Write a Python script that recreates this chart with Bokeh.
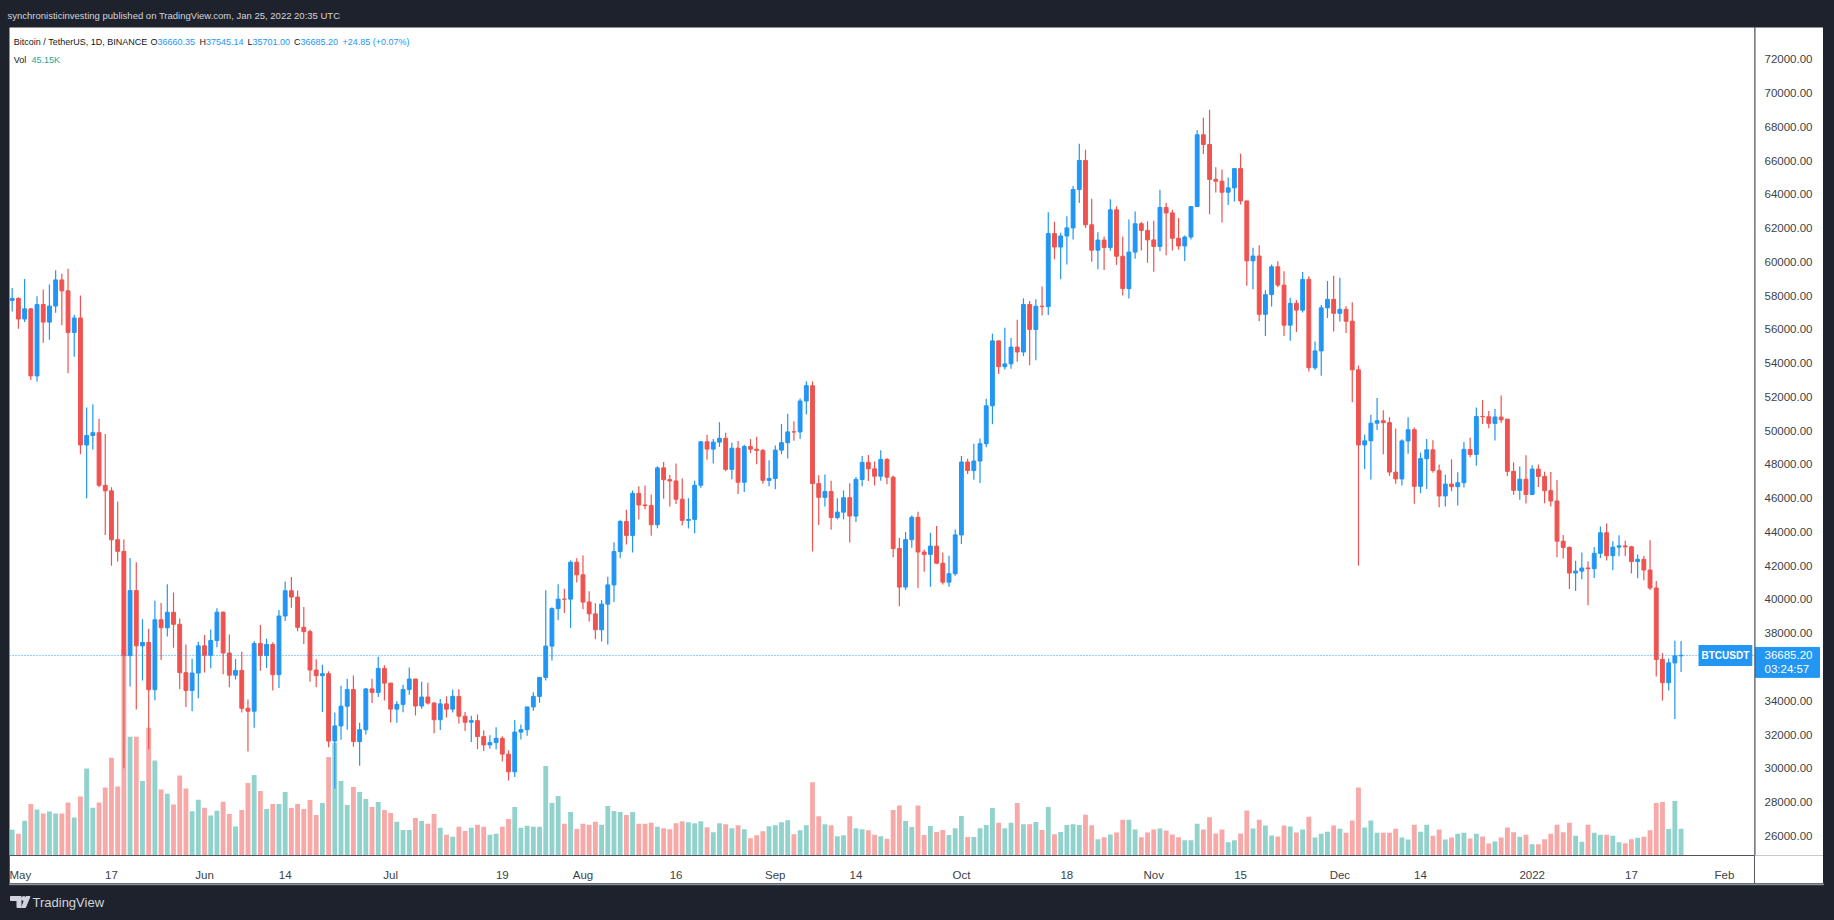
import pandas as pd
from bokeh.plotting import figure
from bokeh.models import Range1d, FixedTicker, Span, Label, ColumnDataSource, Spacer
from bokeh.layouts import column, row
from bokeh.core.properties import value
from bokeh.embed import file_html
from bokeh.resources import INLINE

# ---------------- data (BTC/USDT daily, Binance) ----------------
START_DATE = "2021-05-01"

opens = [
    # May 2021
    57714, 57828, 56610, 57213, 53241, 57473, 56428, 57380, 58928, 58280, 55817, 56670, 49150, 49716, 49880, 46760,
    46432, 43538, 42850, 36672, 40526, 37252, 37449, 34655, 38796, 38324, 39241, 38529, 35663, 34605, 35641,
    # Jun
    37253, 36694, 37568, 39246, 36829, 35516, 35796, 33556, 33381, 37389, 36677, 37332, 35546, 39021, 40516, 40143,
    38349, 38093, 35820, 35483, 35601, 31614, 32509, 33675, 34663, 31577, 32283, 34702, 34494, 35911,
    # Jul
    35045, 33502, 33786, 34669, 35288, 33690, 34220, 33863, 32876, 33815, 33502, 34259, 33086, 32729, 32820, 31874,
    31384, 31521, 31778, 30839, 29790, 32144, 32287, 33635, 34259, 35381, 37237, 39456, 40019, 40018, 42206,
    # Aug
    41461, 39850, 39146, 38207, 39723, 40862, 42836, 44614, 43794, 46280, 45596, 45558, 44428, 47794, 47096, 47019,
    45937, 44686, 44741, 46763, 49340, 48906, 49322, 49546, 47706, 48960, 46942, 49058, 48903, 48829, 47055,
    # Sep
    47166, 48847, 49285, 49926, 49925, 51757, 52660, 46864, 46048, 46396, 44851, 45172, 46026, 44940, 47103, 48121,
    47738, 47299, 48292, 47241, 43016, 40734, 43543, 44866, 42810, 42670, 43160, 42147, 41025, 41524,
    # Oct
    43820, 48141, 47634, 48200, 49225, 51471, 55316, 53786, 53955, 54950, 54659, 57471, 55996, 57370, 57347, 61672,
    60876, 61529, 62006, 64280, 66001, 62193, 60689, 61286, 60852, 63079, 60328, 58413, 60575, 62253, 61860,
    # Nov
    61299, 60911, 63220, 62896, 61396, 60941, 61470, 63274, 67526, 66947, 64883, 64775, 64122, 64381, 65520, 63606,
    60059, 60345, 56891, 58057, 59707, 58617, 56247, 57541, 57138, 58960, 53724, 54721, 57275, 57777,
    # Dec
    56951, 57185, 56485, 53602, 49153, 49397, 50441, 50588, 50471, 47536, 47140, 49389, 50053, 46702, 48336, 48864,
    47632, 46133, 46834, 46681, 46914, 48887, 48588, 50838, 50821, 50428, 50802, 50679, 47588, 46464, 47120,
    # Jan 2022
    46216, 47722, 47286, 46446, 45833, 43451, 43082, 41566, 41679, 41865, 41821, 42735, 43950, 42592, 43099, 43172,
    43118, 42250, 42375, 41744, 40680, 36445, 35071, 36244, 36660.35,
]

highs = [
    58448, 57900, 58981, 57247, 57964, 58360, 58650, 59500, 59300, 59592, 56868, 58000, 51367, 51570, 50700, 49800,
    46643, 45800, 43547, 42451, 42200, 38830, 38270, 39920, 39791, 40900, 40411, 38877, 37338, 36488, 37499,
    37894, 38225, 39476, 39289, 37925, 36480, 36900, 34068, 37534, 38491, 37680, 37463, 39380, 41064, 41330, 40527,
    39559, 38200, 36457, 36137, 35750, 33298, 34881, 35298, 35500, 32700, 34750, 35297, 36600, 36100,
    35057, 33977, 34945, 35967, 35293, 35118, 35059, 33929, 34100, 34262, 34666, 34679, 33340, 33114, 33185, 32249,
    31955, 32435, 31899, 31063, 32858, 32591, 33650, 34500, 35398, 40550, 39542, 40900, 40640, 42316, 42448,
    42599, 40480, 39780, 39969, 41350, 43392, 44700, 45310, 46454, 46700, 46743, 46218, 47886, 48144, 47372, 48053,
    47160, 46000, 47033, 49382, 49757, 49500, 50500, 49875, 49277, 49380, 49170, 49500, 49640, 48910, 48245,
    49125, 50400, 51000, 50558, 51900, 52920, 52920, 47360, 47400, 47033, 45989, 46460, 46876, 47250, 48500, 48557,
    48177, 48843, 48372, 47347, 43639, 44000, 44978, 45200, 42966, 43950, 44350, 42787, 42590, 44141,
    48495, 48336, 49228, 49536, 51886, 55750, 55338, 56100, 55490, 56561, 57839, 57680, 57777, 58532, 62933, 62378,
    61718, 62695, 64486, 67000, 66639, 63732, 61747, 61500, 63711, 63293, 61496, 62499, 62980, 62359, 62405,
    62437, 64270, 63500, 63086, 62595, 61560, 63286, 67789, 68530, 69000, 65600, 65474, 65000, 65550, 66401, 63617,
    60840, 60977, 58320, 59845, 60029, 59444, 57875, 57735, 59398, 59150, 55281, 57445, 58865, 59176,
    59053, 57375, 57600, 53859, 49767, 50936, 51936, 51200, 50797, 50125, 49485, 50800, 50189, 48700, 49500, 49436,
    47995, 47392, 48300, 47537, 49328, 49576, 51375, 51810, 51156, 51280, 52088, 50704, 48119, 47879, 48548,
    47954, 47990, 47570, 47557, 47070, 43816, 43145, 42300, 42786, 42248, 43100, 44322, 44500, 43448, 43800, 43476,
    43179, 42664, 42574, 43505, 41100, 36835, 36499, 37550, 37545.14,
]

lows = [
    57052, 56035, 56438, 53000, 52900, 55200, 55382, 56980, 56235, 53400, 54370, 48600, 46000, 48870, 46650, 43825,
    42001, 42250, 30000, 34850, 33488, 35200, 31111, 34031, 36419, 37800, 37134, 34684, 33632, 33379, 34153,
    35667, 35920, 37170, 35567, 34800, 35258, 33300, 31000, 32396, 35784, 35936, 34600, 34757, 38730, 39506, 38116,
    37365, 35129, 34803, 33336, 31251, 28805, 31683, 32286, 31275, 30151, 32002, 33862, 34225, 34017,
    32711, 32699, 33316, 34357, 33125, 33532, 33777, 32077, 32261, 33004, 33307, 32658, 32202, 31550, 31133, 31020,
    31164, 31108, 30407, 29278, 29482, 31708, 31925, 33401, 33881, 35205, 36383, 38772, 39200, 38313, 41000,
    39422, 38690, 37642, 37508, 37332, 39853, 42446, 43261, 42779, 44742, 45341, 43770, 44217, 45971, 45500, 45660,
    44376, 44203, 43927, 46622, 48279, 48050, 49029, 47600, 47122, 46250, 46362, 48661, 48005, 46851, 46700,
    46533, 48600, 48348, 49400, 49500, 50969, 42843, 44412, 45513, 44134, 44730, 44742, 43370, 44594, 46700, 47022,
    46750, 47035, 46829, 42500, 39600, 40565, 43069, 40675, 41646, 40750, 42098, 40888, 40753, 41410,
    43283, 47430, 47088, 46891, 49022, 50382, 53357, 53617, 53661, 54080, 54415, 53879, 54167, 56818, 56850, 60150,
    58963, 59844, 61322, 63481, 62000, 60000, 59562, 59510, 60650, 59817, 58000, 57820, 60174, 60673, 59945,
    59405, 60624, 60382, 60677, 60721, 60050, 61322, 63273, 66382, 62822, 64100, 62333, 63360, 63576, 63400, 58575,
    58373, 56474, 55600, 57353, 58486, 55610, 55317, 55837, 57000, 53500, 53610, 53256, 56666, 55875,
    56458, 55777, 51680, 42000, 47727, 47100, 50039, 48600, 47320, 46852, 46751, 48638, 45672, 46290, 46547, 47511,
    45456, 45500, 46406, 45558, 46630, 48421, 47920, 50384, 50142, 49412, 50449, 47313, 46201, 45900, 45678,
    46208, 46654, 45696, 45500, 42500, 42430, 40611, 40501, 41200, 39650, 41268, 42450, 42311, 41725, 42555, 42577,
    41540, 41250, 41138, 40553, 35440, 34008, 34601, 32917, 35701.00,
]

closes = [
    57828, 56610, 57213, 53241, 57473, 56428, 57380, 58928, 58280, 55817, 56670, 49150, 49716, 49880, 46760, 46432,
    43538, 42850, 36672, 40526, 37252, 37449, 34655, 38796, 38324, 39241, 38529, 35663, 34605, 35641, 37253,
    36693, 37568, 39246, 36829, 35513, 35796, 33552, 33380, 37388, 36675, 37331, 35546, 39020, 40516, 40144, 38349,
    38093, 35820, 35484, 35600, 31608, 32509, 33679, 34663, 31585, 32284, 34700, 34494, 35912, 35045,
    33504, 33786, 34669, 35287, 33690, 34220, 33862, 32875, 33815, 33502, 34259, 33086, 32729, 32820, 31880, 31383,
    31521, 31778, 30839, 29790, 32144, 32287, 33634, 34258, 35381, 37237, 39457, 40019, 40016, 42206, 41461,
    39846, 39147, 38207, 39723, 40862, 42836, 44614, 43792, 46285, 45595, 45555, 44428, 47793, 47096, 47019, 45936,
    44686, 44741, 46762, 49339, 48906, 49322, 49546, 47706, 48960, 46942, 49058, 48903, 48829, 47054, 47167,
    48847, 49285, 49926, 49925, 51757, 52663, 46864, 46048, 46396, 44851, 45172, 46026, 44940, 47111, 48121, 47737,
    47299, 48293, 47241, 43016, 40734, 43543, 44866, 42810, 42670, 43160, 42147, 41026, 41524, 43824,
    48141, 47634, 48200, 49224, 51471, 55316, 53786, 53951, 54950, 54659, 57471, 55996, 57367, 57347, 61672, 60875,
    61529, 62010, 64280, 66002, 62194, 60689, 61286, 60852, 63078, 60329, 58413, 60576, 62253, 61859, 61300,
    60911, 63219, 62896, 61395, 60937, 61470, 63273, 67525, 66947, 64882, 64774, 64122, 64380, 65519, 63606, 60058,
    60345, 56891, 58052, 59707, 58622, 56247, 57541, 57138, 58960, 53727, 54721, 57274, 57776, 56951,
    57184, 56480, 53601, 49152, 49396, 50441, 50588, 50471, 47545, 47140, 49389, 50053, 46702, 48343, 48864, 47632,
    46131, 46834, 46681, 46914, 48889, 48588, 50838, 50821, 50429, 50809, 50640, 47588, 46464, 47120, 46216,
    47722, 47286, 46446, 45833, 43451, 43082, 41566, 41679, 41864, 41822, 42735, 43950, 42591, 43099, 43177, 43113,
    42250, 42375, 41744, 40680, 36445, 35071, 36244, 36660, 36685.20,
]

# volume, thousands of BTC
volumes_k = [
    43.6, 36.9, 59.0, 87.2, 77.8, 71.1, 74.4, 71.1, 71.1, 89.9, 64.4, 99.9, 147.5, 81.1, 89.9, 115.4,
    165.6, 116.7, 350.0, 201.0, 201.0, 126.0, 216.6, 161.0, 112.0, 104.6, 86.5, 135.5, 113.3, 75.1, 94.6,
    81.1, 67.7, 75.8, 91.2, 70.5, 49.0, 77.2, 122.9, 136.4, 109.3, 78.9, 87.4, 87.4, 107.7, 80.6, 87.4,
    78.9, 94.1, 68.8, 89.1, 166.8, 191.0, 126.2, 85.7, 116.1, 107.7, 95.8, 82.3, 90.8, 77.2,
    72.2, 57.0, 43.4, 43.4, 63.7, 58.6, 53.6, 70.5, 46.8, 35.0, 31.6, 48.5, 41.7, 46.8, 51.9, 48.5,
    35.0, 36.7, 48.5, 62.0, 82.3, 46.8, 50.2, 48.5, 48.5, 151.6, 89.1, 100.9, 53.6, 73.9, 45.1,
    53.6, 51.9, 57.0, 51.9, 84.0, 75.5, 73.9, 68.8, 73.9, 53.6, 53.6, 55.3, 48.5, 46.0, 44.4, 54.6,
    58.0, 56.3, 54.6, 58.0, 47.8, 39.4, 54.6, 52.9, 46.1, 51.2, 44.4, 29.2, 34.3, 41.1, 49.5,
    51.2, 56.3, 59.7, 36.0, 42.8, 51.2, 123.9, 66.4, 52.9, 51.2, 32.6, 34.3, 66.4, 46.1, 44.4, 42.8,
    35.0, 32.6, 28.4, 76.9, 84.5, 58.3, 48.3, 84.5, 34.6, 49.9, 39.9, 43.1, 34.6, 46.1,
    66.8, 31.4, 31.4, 46.1, 51.5, 80.6, 55.3, 46.1, 55.3, 89.1, 53.1, 53.1, 56.8, 43.1, 82.1, 36.2,
    39.9, 51.5, 53.1, 51.5, 69.1, 51.4, 27.4, 30.8, 35.7, 39.0, 60.5, 60.5, 43.9, 30.8, 39.0,
    43.9, 45.6, 42.3, 35.7, 30.8, 25.7, 25.7, 53.9, 43.9, 64.7, 37.3, 43.9, 22.5, 25.7, 37.3, 76.4,
    45.6, 60.5, 50.7, 34.0, 32.3, 50.7, 49.0, 39.0, 44.1, 65.7, 30.3, 36.8, 40.1, 50.7,
    45.3, 38.7, 59.2, 115.1, 47.3, 59.2, 38.7, 38.7, 38.7, 45.3, 30.3, 26.9, 51.9, 40.1, 51.9, 33.5,
    44.1, 26.9, 30.3, 36.8, 38.7, 28.6, 36.8, 32.3, 20.4, 23.7, 30.3, 47.3, 39.4, 31.6, 35.0,
    19.1, 19.1, 27.5, 36.7, 51.9, 39.4, 55.3, 33.3, 23.2, 51.9, 38.4, 35.0, 35.0, 33.3, 22.5, 20.8,
    27.5, 29.9, 31.6, 42.8, 89.1, 90.8, 45.1, 92.4, 45.15,
]

price_ticks = [26000, 28000, 30000, 32000, 34000, 36000, 38000, 40000, 42000, 44000, 46000, 48000,
               50000, 52000, 54000, 56000, 58000, 60000, 62000, 64000, 66000, 68000, 70000, 72000]

tick_dates = ["2021-05-01", "2021-05-17", "2021-06-01", "2021-06-14", "2021-07-01", "2021-07-19",
              "2021-08-01", "2021-08-16", "2021-09-01", "2021-09-14", "2021-10-01", "2021-10-18",
              "2021-11-01", "2021-11-15", "2021-12-01", "2021-12-14", "2022-01-01", "2022-01-17",
              "2022-02-01"]
tick_labels = ["May", "17", "Jun", "14", "Jul", "19", "Aug", "16", "Sep", "14", "Oct", "18",
               "Nov", "15", "Dec", "14", "2022", "17", "Feb"]

LAST_PRICE = 36685.20
HEADER = "synchronisticinvesting published on TradingView.com, Jan 25, 2022 20:35 UTC"

# ---------------- styling ----------------
FONT = "Liberation Sans"
DARK = "#1e222d"
UP = "#2196F3"
DOWN = "#EF5350"
VUP = "#26A69A"
VDOWN = "#EF5350"
TXT = "#131722"
AXIS_TXT = "#3b3f4a"
LINE = "#50535e"

# ---------------- geometry helpers (page pixel -> data) ----------------
PX_PER_DAY = 6.204
X0 = -2.7 / PX_PER_DAY
X1 = X0 + 1745 / PX_PER_DAY
PX_PER_USD = 0.016923


def py2y(py):
    return 72000 - (py - 58.8) / PX_PER_USD


def px2x(px):
    return X0 + (px - 9) / PX_PER_DAY


Y0 = py2y(857)
Y1 = py2y(27)
VOL_TOP = 830 * 1.69

dates = pd.date_range(START_DATE, periods=len(closes), freq="D")
xs = [(d - dates[0]).days for d in dates]
is_up = [c >= o for o, c in zip(opens, closes)]

src = ColumnDataSource(dict(
    x=xs,
    high=highs,
    low=lows,
    top=[max(o, c) for o, c in zip(opens, closes)],
    bottom=[min(o, c) for o, c in zip(opens, closes)],
    color=[UP if u else DOWN for u in is_up],
    vol=volumes_k,
    vcolor=[VUP if u else VDOWN for u in is_up],
))

yr = Range1d(Y0, Y1)

# ---------------- main price pane ----------------
p = figure(width=1745, height=856, x_range=Range1d(X0, X1), y_range=yr,
           y_axis_location=None, toolbar_location=None, output_backend="svg",
           min_border_left=0, min_border_right=0, min_border_top=0, min_border_bottom=26,
           background_fill_color="#ffffff", border_fill_color="#ffffff", outline_line_color=None)
p.extra_y_ranges = {"vol": Range1d(0, VOL_TOP)}
p.grid.visible = False

p.vbar(x="x", width=0.78, top="vol", bottom=0, y_range_name="vol", source=src,
       fill_color="vcolor", fill_alpha=0.5, line_color=None)
p.segment(x0="x", y0="high", x1="x", y1="low", source=src, line_color="color", line_width=1.2)
p.vbar(x="x", width=0.62, top="top", bottom="bottom", source=src,
       fill_color="color", line_color="color", line_width=1)

p.add_layout(Span(location=LAST_PRICE, dimension="width", line_color=UP, line_width=1, line_dash="1 2"))

tick_x = [int((pd.Timestamp(d) - dates[0]).days) for d in tick_dates]
p.xaxis.ticker = FixedTicker(ticks=tick_x)
p.xaxis.major_label_overrides = {t: l for t, l in zip(tick_x, tick_labels)}
p.xaxis.major_tick_line_color = None
p.xaxis.minor_tick_line_color = None
p.xaxis.major_label_standoff = 7
p.xaxis.axis_line_color = LINE
p.xaxis.major_label_text_font = FONT
p.xaxis.major_label_text_font_size = "11.5px"
p.xaxis.major_label_text_color = AXIS_TXT

# legend text in pane
leg = ColumnDataSource(dict(
    x=[px2x(13.3), px2x(150), px2x(157), px2x(199), px2x(205.5), px2x(247), px2x(252),
       px2x(293.5), px2x(300), px2x(342), px2x(13.3), px2x(31)],
    y=[py2y(42)] * 10 + [py2y(60)] * 2,
    text=["Bitcoin / TetherUS, 1D, BINANCE", "O", "36660.35", "H", "37545.14", "L", "35701.00",
          "C", "36685.20", "+24.85 (+0.07%)", "Vol", "45.15K"],
    color=[TXT, TXT, UP, TXT, UP, TXT, UP, TXT, UP, UP, TXT, VUP],
))
p.text(x="x", y="y", text="text", text_color="color", source=leg,
       text_font=value(FONT), text_font_size=value("9px"),
       text_baseline="middle", text_align="left")

p.add_layout(Label(x=px2x(1698), y=LAST_PRICE, text="BTCUSDT", text_color="#ffffff",
                   text_font=FONT, text_font_size="10px", text_font_style="bold",
                   text_baseline="middle", text_align="left",
                   background_fill_color=UP, padding=(3, 5)))

# ---------------- right price scale ----------------
r = figure(width=69, height=856, x_range=Range1d(0, 69), y_range=yr,
           x_axis_location=None, y_axis_location=None, toolbar_location=None, output_backend="svg",
           min_border_left=0, min_border_right=0, min_border_top=0, min_border_bottom=26,
           background_fill_color="#ffffff", border_fill_color="#ffffff", outline_line_color=None)
r.grid.visible = False
r.text(x=[10] * len(price_ticks), y=price_ticks, text=["%.2f" % t for t in price_ticks],
       text_font=value(FONT), text_font_size=value("11.5px"), text_color=AXIS_TXT,
       text_baseline="middle", text_align="left")
r.add_layout(Span(location=0.5, dimension="height", line_color=LINE, line_width=1))
r.quad(left=[1], right=[65], top=[LAST_PRICE + 8 / PX_PER_USD], bottom=[LAST_PRICE - 22 / PX_PER_USD],
       color=UP)
r.text(x=[10, 10], y=[LAST_PRICE, LAST_PRICE - 14 / PX_PER_USD], text=["36685.20", "03:24:57"],
       text_font=value(FONT), text_font_size=value("11.5px"), text_color="#ffffff",
       text_baseline="middle", text_align="left")

# ---------------- header / footer bands ----------------
hdr = figure(width=1834, height=27, x_range=Range1d(0, 1834), y_range=Range1d(27, 0),
             x_axis_location=None, y_axis_location=None, toolbar_location=None, output_backend="svg",
             min_border=0, background_fill_color=DARK, border_fill_color=DARK, outline_line_color=None)
hdr.grid.visible = False
hdr.text(x=[7], y=[15], text=[HEADER], text_font=value(FONT), text_font_size=value("9.5px"),
         text_color="#d1d4dc", text_baseline="middle", text_align="left")

ftr = figure(width=1834, height=37, x_range=Range1d(0, 1834), y_range=Range1d(37, 0),
             x_axis_location=None, y_axis_location=None, toolbar_location=None, output_backend="svg",
             min_border=0, background_fill_color=DARK, border_fill_color=DARK, outline_line_color=None)
ftr.grid.visible = False
ftr.quad(left=[9], right=[1823], top=[0], bottom=[1.2], color="#9598a1")
ftr.quad(left=[10], right=[20.5], top=[13], bottom=[17], color="#d1d4dc")
ftr.quad(left=[16.5], right=[20.5], top=[13], bottom=[24], color="#d1d4dc")
ftr.circle(x=[23.2], y=[15], radius=2, color="#d1d4dc")
ftr.patch(x=[25.5, 29.5, 25.0, 21.0], y=[13, 13, 24, 24], color="#d1d4dc")
ftr.text(x=[32], y=[19], text=["TradingView"], text_font=value(FONT), text_font_size=value("13px"),
         text_color="#d1d4dc", text_baseline="middle", text_align="left")

left_pad = Spacer(width=9, height=856, styles={"background-color": DARK})
right_pad = Spacer(width=11, height=856, styles={"background-color": DARK})
layout = column(hdr, row(left_pad, p, r, right_pad), ftr, styles={"background-color": DARK})

open("out.html", "w").write(file_html(layout, INLINE).replace("<body>", '<body style="background-color:#1e222d;">', 1))
